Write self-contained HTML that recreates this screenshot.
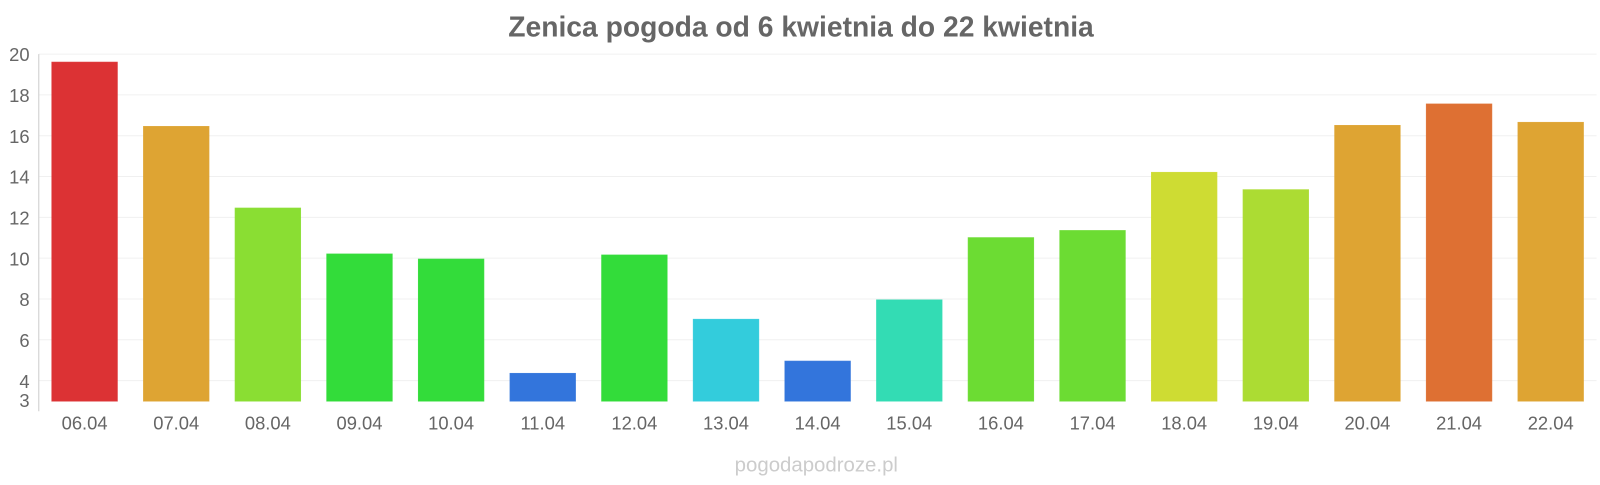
<!DOCTYPE html>
<html><head><meta charset="utf-8"><style>
body{margin:0;background:#fff;font-family:"Liberation Sans",sans-serif}
svg text{font-family:"Liberation Sans",sans-serif}
</style></head><body>
<svg id="c" width="1600" height="480">
<g transform="scale(1.0204)">
<text x="785" y="36" text-anchor="middle" font-size="27.7" font-weight="bold" fill="#666">Zenica pogoda od 6 kwietnia do 22 kwietnia</text>
<text x="800" y="462" text-anchor="middle" font-size="20" fill="#ccc">pogodapodroze.pl</text>
<g id="grid"></g><g id="bars"></g><g id="axes"></g>
</g>
</svg>
<script>
const categories=["06.04","07.04","08.04","09.04","10.04","11.04","12.04","13.04","14.04","15.04","16.04","17.04","18.04","19.04","20.04","21.04","22.04"];
const temps=[19.6,16.45,12.45,10.2,9.95,4.35,10.15,7.0,4.95,7.95,11.0,11.35,14.2,13.35,16.5,17.55,16.65];
const colors=["#dc3234","#dea433","#8ade33","#33dc3a","#33dc3a","#3375dc","#33dc3a","#33ccdc","#3375dc","#33dcb4","#6cdc33","#6cdc33","#cedc33","#acdc33","#dea433","#de7033","#dea433"];
const yTicks=[3,4,6,8,10,12,14,16,18,20];
const ns="http://www.w3.org/2000/svg";
const x0=38,x1=1564.6,slot=(x1-x0)/categories.length;
const y=v=>393-(v-3)*20;
const xc=i=>x0+slot*(i+0.5);
function mk(t,a,p){const e=document.createElementNS(ns,t);for(const k in a)e.setAttribute(k,a[k]);p.appendChild(e);return e;}
const G=document.getElementById('grid'),B=document.getElementById('bars'),A=document.getElementById('axes');
yTicks.forEach(v=>{
 if(v!==3){const l=mk('line',{x1:x0,x2:x1,y1:y(v),y2:y(v),stroke:'#f0f0f0'},G);
 
 }
 const t=mk('text',{x:29,y:y(v)+(v===3?6:7),'text-anchor':'end','font-size':18,fill:'#666'},A);
 t.textContent=v;
 
 
});
const ax=mk('line',{x1:x0,x2:x0,y1:53,y2:403,stroke:'#ccc'},A);


categories.forEach((c,i)=>{
 const r=mk('rect',{x:xc(i)-32,y:y(temps[i]),width:64,height:393-y(temps[i]),fill:colors[i],stroke:colors[i],'stroke-opacity':0.9},B);
 
 
 const t=mk('text',{x:xc(i),y:421,'text-anchor':'middle','font-size':18,fill:'#666'},A);
 t.textContent=c;
 
 
});
</script>
</body></html>
